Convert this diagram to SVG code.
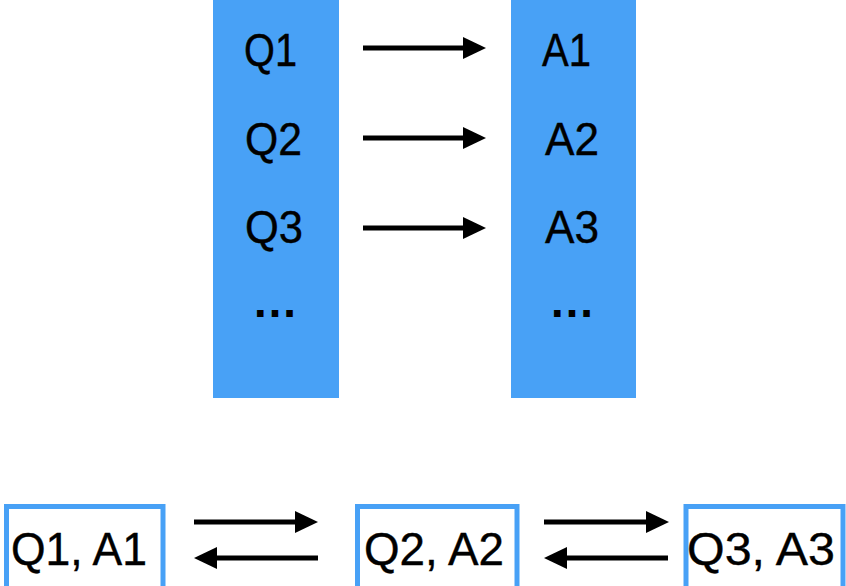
<svg xmlns="http://www.w3.org/2000/svg" width="846" height="586" viewBox="0 0 846 586">
  <style>
    .col { fill: #48A1F6; }
    .box { fill: #ffffff; stroke: #48A1F6; stroke-width: 5; }
    .t { font-family: "Liberation Sans", Arial, Helvetica, sans-serif; font-size: 46px; fill: #000000; stroke: #000000; stroke-width: 0.4; }
    .bt { font-family: "Liberation Sans", Arial, Helvetica, sans-serif; font-size: 46px; fill: #000000; stroke: #000000; stroke-width: 0.4; }
    .dots { font-family: "Liberation Sans", Arial, Helvetica, sans-serif; font-size: 46px; font-weight: bold; fill: #000000; }
    .arr { stroke: #000000; stroke-width: 5; fill: none; marker-end: url(#head); }
  </style>
  <defs>
    <marker id="head" markerUnits="userSpaceOnUse" markerWidth="23" markerHeight="22" refX="0" refY="11" orient="auto">
      <path d="M0,0 L23,11 L0,22 Z" fill="#000000"/>
    </marker>
  </defs>
  <rect width="846" height="586" fill="#ffffff"/>

  <g id="questions">
    <rect class="col" x="213" y="0" width="126" height="398"/>
    <text class="t" x="244" y="66" textLength="53" lengthAdjust="spacingAndGlyphs">Q1</text>
    <text class="t" x="245" y="155" textLength="57" lengthAdjust="spacingAndGlyphs">Q2</text>
    <text class="t" x="245" y="243" textLength="58" lengthAdjust="spacingAndGlyphs">Q3</text>
    <text class="dots" x="275" y="317" text-anchor="middle" textLength="36" lengthAdjust="spacing">…</text>
  </g>

  <g id="answers">
    <rect class="col" x="511" y="0" width="125" height="398"/>
    <text class="t" x="542" y="66" textLength="49" lengthAdjust="spacingAndGlyphs">A1</text>
    <text class="t" x="545" y="155" textLength="54" lengthAdjust="spacingAndGlyphs">A2</text>
    <text class="t" x="545" y="243" textLength="54" lengthAdjust="spacingAndGlyphs">A3</text>
    <text class="dots" x="572" y="317" text-anchor="middle">…</text>
  </g>

  <g id="pair1">
    <rect class="box" x="6.5" y="506.5" width="156.5" height="100"/>
    <text class="bt" x="11" y="565" textLength="136" lengthAdjust="spacingAndGlyphs">Q1, A1</text>
  </g>
  <g id="pair2">
    <rect class="box" x="357.5" y="506.5" width="159.5" height="100"/>
    <text class="bt" x="364" y="565" textLength="140" lengthAdjust="spacingAndGlyphs">Q2, A2</text>
  </g>
  <g id="pair3">
    <rect class="box" x="686" y="506.5" width="157" height="100"/>
    <text class="bt" x="687" y="565" textLength="148" lengthAdjust="spacingAndGlyphs">Q3, A3</text>
  </g>

  <g id="connectors">
    <line class="arr" x1="363" y1="48" x2="463" y2="48"/>
    <line class="arr" x1="363" y1="138" x2="463" y2="138"/>
    <line class="arr" x1="363" y1="228" x2="463" y2="228"/>
    <line class="arr" x1="194" y1="522" x2="295" y2="522"/>
    <line class="arr" x1="318" y1="558" x2="217" y2="558"/>
    <line class="arr" x1="544" y1="522" x2="646" y2="522"/>
    <line class="arr" x1="668" y1="558" x2="567" y2="558"/>
  </g>
</svg>
